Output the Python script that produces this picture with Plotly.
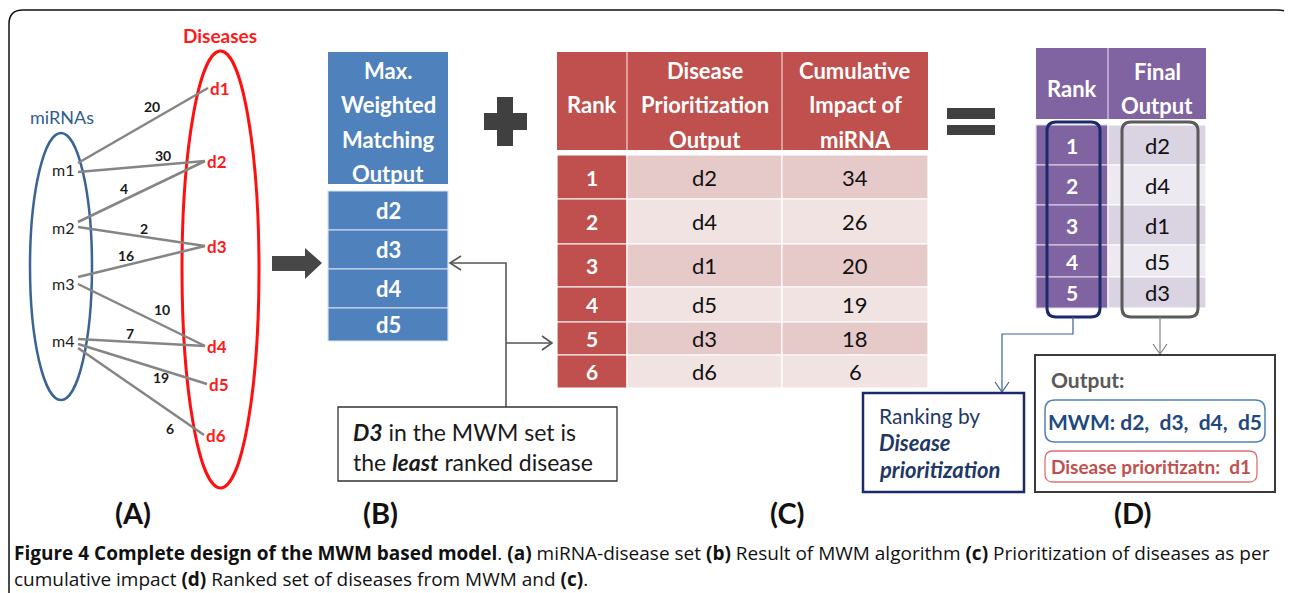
import plotly.graph_objects as go

# ---------------- data ----------------
mirnas = ["m1", "m2", "m3", "m4"]
diseases = ["d1", "d2", "d3", "d4", "d5", "d6"]
edge_src = ["m1", "m1", "m2", "m2", "m3", "m3", "m4", "m4", "m4"]
edge_dst = ["d1", "d2", "d2", "d3", "d3", "d4", "d4", "d5", "d6"]
edge_w = [20, 30, 4, 2, 16, 10, 7, 19, 6]

mwm_header = ["Max.", "Weighted", "Matching", "Output"]
mwm_output = ["d2", "d3", "d4", "d5"]

prio_headers = [["Rank"], ["Disease", "Prioritization", "Output"], ["Cumulative", "Impact of", "miRNA"]]
prio_rank = [1, 2, 3, 4, 5, 6]
prio_disease = ["d2", "d4", "d1", "d5", "d3", "d6"]
prio_impact = [34, 26, 20, 19, 18, 6]

final_headers = [["Rank"], ["Final", "Output"]]
final_rank = [1, 2, 3, 4, 5]
final_output = ["d2", "d4", "d1", "d5", "d3"]

panel_labels = ["(A)", "(B)", "(C)", "(D)"]

# ---------------- layout constants ----------------
W, H = 1292, 593
OFF = 8  # page body margin
FONT = "Lato, 'Open Sans', sans-serif"
CAP_FONT = "'Open Sans', 'Noto Sans', sans-serif"

mirna_x = 63
mirna_y = [169, 227, 283, 340]
dis_x = [220, 217, 217, 217, 219, 216]
dis_y = [88, 161, 246, 346, 384, 435]
start_dy = [-6, 3, -5, 0, -6, 1, -1, 4, 8]
lab_t = [0.57, 0.67, 0.36, 0.52, 0.38, 0.66, 0.41, 0.64, 0.73]
lab_dy = [-14, -9, -12, -8, -10, -15, -8, 8, 17]

shapes = []
annots = []


def text(x, y, s, size=16, color="black", xanchor="center", family=FONT):
    annots.append(dict(x=x, y=y, xref="x", yref="y", text=s, showarrow=False,
                       xanchor=xanchor, yanchor="middle",
                       font=dict(family=family, size=size, color=color)))


def rect(x0, y0, x1, y1, fill=None, line=None, lw=1.0):
    shapes.append(dict(type="rect", xref="x", yref="y", x0=x0, y0=y0, x1=x1, y1=y1,
                       fillcolor=fill if fill else "rgba(0,0,0,0)",
                       line=dict(color=line if line else "rgba(0,0,0,0)", width=lw if line else 0)))


def path(p, line="black", lw=1.0, fill=None):
    shapes.append(dict(type="path", xref="x", yref="y", path=p,
                       fillcolor=fill if fill else "rgba(0,0,0,0)",
                       line=dict(color=line if line else "rgba(0,0,0,0)", width=lw if line else 0)))


def rrect(x0, y0, x1, y1, r, line, lw, fill=None):
    p = (f"M {x0+r},{y0} H {x1-r} Q {x1},{y0} {x1},{y0+r} V {y1-r} Q {x1},{y1} {x1-r},{y1} "
         f"H {x0+r} Q {x0},{y1} {x0},{y1-r} V {y0+r} Q {x0},{y0} {x0+r},{y0} Z")
    path(p, line=line, lw=lw, fill=fill)


# outer frame
path("M 9,600 V 24 Q 9,10 23,10 H 1278 Q 1289,10 1294,18", line="#111111", lw=1.5)

# ---------------- panel A ----------------
shapes.append(dict(type="circle", xref="x", yref="y", x0=30, x1=92, y0=133, y1=400,
                   line=dict(color="#3A6396", width=2.5)))
shapes.append(dict(type="circle", xref="x", yref="y", x0=182, x1=259, y0=51, y1=488,
                   line=dict(color="#FF1010", width=3)))
text(62, 117, "miRNAs", 18, "#2F5D8E")
text(220, 35, "<b>Diseases</b>", 19, "#FF1A1A")

for i, (s, d, w) in enumerate(zip(edge_src, edge_dst, edge_w)):
    mi = mirnas.index(s)
    di = diseases.index(d)
    x0, y0 = mirna_x + 15, mirna_y[mi] + start_dy[i]
    x1, y1 = dis_x[di] - 12, dis_y[di]
    path(f"M {x0},{y0} L {x1},{y1}", line="#858585", lw=2.5)
    t = lab_t[i]
    text(x0 + t * (x1 - x0), y0 + t * (y1 - y0) + lab_dy[i], f"<b>{w}</b>", 14, "#1a1a1a")

for m, y in zip(mirnas, mirna_y):
    text(mirna_x, y, m, 16, "#222222")
for d, x, y in zip(diseases, dis_x, dis_y):
    text(x, y, f"<b>{d}</b>", 17, "#FF1A1A")

# big arrow A -> B
path("M 272,256 H 305 V 248 L 322,263 L 305,279 V 271 H 272 Z", line=None, fill="#474747")

# ---------------- panel B ----------------
BLUE = "#4F81BD"
rect(328, 52, 448, 184, fill=BLUE)
for k, ln in enumerate(mwm_header):
    text(388, 70 + k * 34.5, f"<b>{ln}</b>", 22, "white")
b_edges = [191, 230, 269, 308, 341]
for k, d in enumerate(mwm_output):
    rect(328, b_edges[k], 448, b_edges[k + 1], fill=BLUE, line="#D9E2F0", lw=1.2)
    text(388, (b_edges[k] + b_edges[k + 1]) / 2, f"<b>{d}</b>", 22, "white")

# plus
rect(484, 113, 527, 130, fill="#404040")
rect(497, 97, 513, 146, fill="#404040")

# connector B <-> C and callout
GR = "#555555"
path("M 450,263 H 506 V 407", line=GR, lw=1.6)
path("M 506,343 H 552", line=GR, lw=1.6)
path("M 461,256 L 450,263 L 461,270", line=GR, lw=1.6)
path("M 542,336 L 552,343 L 542,350", line=GR, lw=1.6)
rect(338, 407, 617, 481, fill="white", line="#333333", lw=1.3)
text(351, 432, "<b><i>D3</i></b> in the MWM set is", 23, "#1a1a1a", xanchor="left")
text(351, 462, "the <b><i>least</i></b> ranked disease", 23, "#1a1a1a", xanchor="left")

# ---------------- panel C ----------------
RED = "#C0504D"
c_cols = [557, 627, 782, 928]
rect(c_cols[0], 52, c_cols[-1], 150, fill=RED)
for j, hdr in enumerate(prio_headers):
    cx = (c_cols[j] + c_cols[j + 1]) / 2
    if j > 0:
        path(f"M {c_cols[j]},52 V 150", line="#E8B8B6", lw=1.5)
    n = len(hdr)
    for k, ln in enumerate(hdr):
        text(cx, 104.5 + (k - (n - 1) / 2) * 34.5, f"<b>{ln}</b>", 22, "white")
c_rows = [155, 199, 244, 287, 322, 355, 388]
for r in range(len(prio_rank)):
    ya, yb = c_rows[r], c_rows[r + 1]
    shade = "#E6CACA" if r % 2 == 0 else "#F2E3E3"
    rect(c_cols[0], ya, c_cols[1], yb, fill=RED, line="white", lw=1.2)
    rect(c_cols[1], ya, c_cols[2], yb, fill=shade, line="white", lw=1.2)
    rect(c_cols[2], ya, c_cols[3], yb, fill=shade, line="white", lw=1.2)
    ym = (ya + yb) / 2
    text((c_cols[0] + c_cols[1]) / 2, ym, f"<b>{prio_rank[r]}</b>", 21, "white")
    text((c_cols[1] + c_cols[2]) / 2, ym, prio_disease[r], 22, "#111111")
    text((c_cols[2] + c_cols[3]) / 2, ym, str(prio_impact[r]), 22, "#111111")

# equals
rect(947, 108, 995, 119, fill="#404040")
rect(947, 125, 995, 135, fill="#404040")

# ---------------- panel D ----------------
PUR = "#8064A2"
d_cols = [1036, 1108, 1206]
rect(d_cols[0], 48, d_cols[-1], 119, fill=PUR)
path(f"M {d_cols[1]},48 V 119", line="#C9BCDB", lw=1.5)
for j, hdr in enumerate(final_headers):
    cx = (d_cols[j] + d_cols[j + 1]) / 2
    n = len(hdr)
    for k, ln in enumerate(hdr):
        text(cx, 88 + (k - (n - 1) / 2) * 34, f"<b>{ln}</b>", 22, "white")
d_rows = [125, 165, 205, 245, 277, 308]
for r in range(len(final_rank)):
    ya, yb = d_rows[r], d_rows[r + 1]
    shade = "#D9D3E2" if r % 2 == 0 else "#ECE9F1"
    rect(d_cols[0], ya, d_cols[1], yb, fill=PUR, line="#E0D8EA", lw=1.2)
    rect(d_cols[1], ya, d_cols[2], yb, fill=shade, line="white", lw=1.2)
    ym = (ya + yb) / 2
    text((d_cols[0] + d_cols[1]) / 2, ym, f"<b>{final_rank[r]}</b>", 21, "white")
    text((d_cols[1] + d_cols[2]) / 2, ym, final_output[r], 22, "#111111")

rrect(1047, 122, 1100, 317, 9, "#1B2A6B", 3)
rrect(1122, 122, 1198, 317, 9, "#5A5A5A", 3)

NAV = "#3E5F9E"
path("M 1073,317 V 334 H 1002 V 392", line=NAV, lw=1.2)
path("M 995,382 L 1002,392 L 1009,382", line=NAV, lw=1.2)
path("M 1160,317 V 354", line="#808080", lw=1.2)
path("M 1153,344 L 1160,354 L 1167,344", line="#808080", lw=1.2)

rect(863, 393, 1024, 492, fill="white", line="#1B2A6B", lw=2.5)
text(877, 415, "Ranking by", 21, "#1F3864", xanchor="left")
text(877, 442, "<b><i>Disease</i></b>", 22, "#1F3864", xanchor="left")
text(877, 469, "<b><i>prioritization</i></b>", 22, "#1F3864", xanchor="left")

rect(1035, 355, 1275, 492, fill="white", line="#3A3A3A", lw=2)
text(1049, 379, "<b>Output:</b>", 21, "#595959", xanchor="left")
rrect(1045, 400, 1265, 442, 10, "#4F81BD", 1.5)
text(1155, 421, "<b>MWM:\u00a0d2,\u00a0\u00a0d3,\u00a0\u00a0d4,\u00a0\u00a0d5</b>", 21, "#1F497D")
rrect(1045, 451, 1257, 482, 8, "#E07070", 1.3)
text(1151, 466.5, "<b>Disease prioritizatn:\u00a0\u00a0d1</b>", 19, "#C0504D")

# panel labels
for lab, x in zip(panel_labels, [133, 380, 787, 1132]):
    text(x, 512, f"<b>{lab}</b>", 29, "#111111")

# caption
cap1 = ("<b>Figure 4 Complete design of the MWM based model</b>. <b>(a)</b> miRNA-disease set "
        "<b>(b)</b> Result of MWM algorithm <b>(c)</b> Prioritization of diseases as per")
cap2 = "cumulative impact <b>(d)</b> Ranked set of diseases from MWM and <b>(c)</b>."
text(12, 553, cap1, 19, "#111111", xanchor="left", family=CAP_FONT)
text(12, 579, cap2, 19, "#111111", xanchor="left", family=CAP_FONT)

fig = go.Figure()
fig.update_layout(
    width=W - OFF, height=H - OFF, margin=dict(l=0, r=0, t=0, b=0),
    paper_bgcolor="white", plot_bgcolor="white",
    xaxis=dict(range=[OFF, W], visible=False, fixedrange=True),
    yaxis=dict(range=[H, OFF], visible=False, fixedrange=True),
    shapes=shapes, annotations=annots, showlegend=False,
)
fig.write_html("out.html")
